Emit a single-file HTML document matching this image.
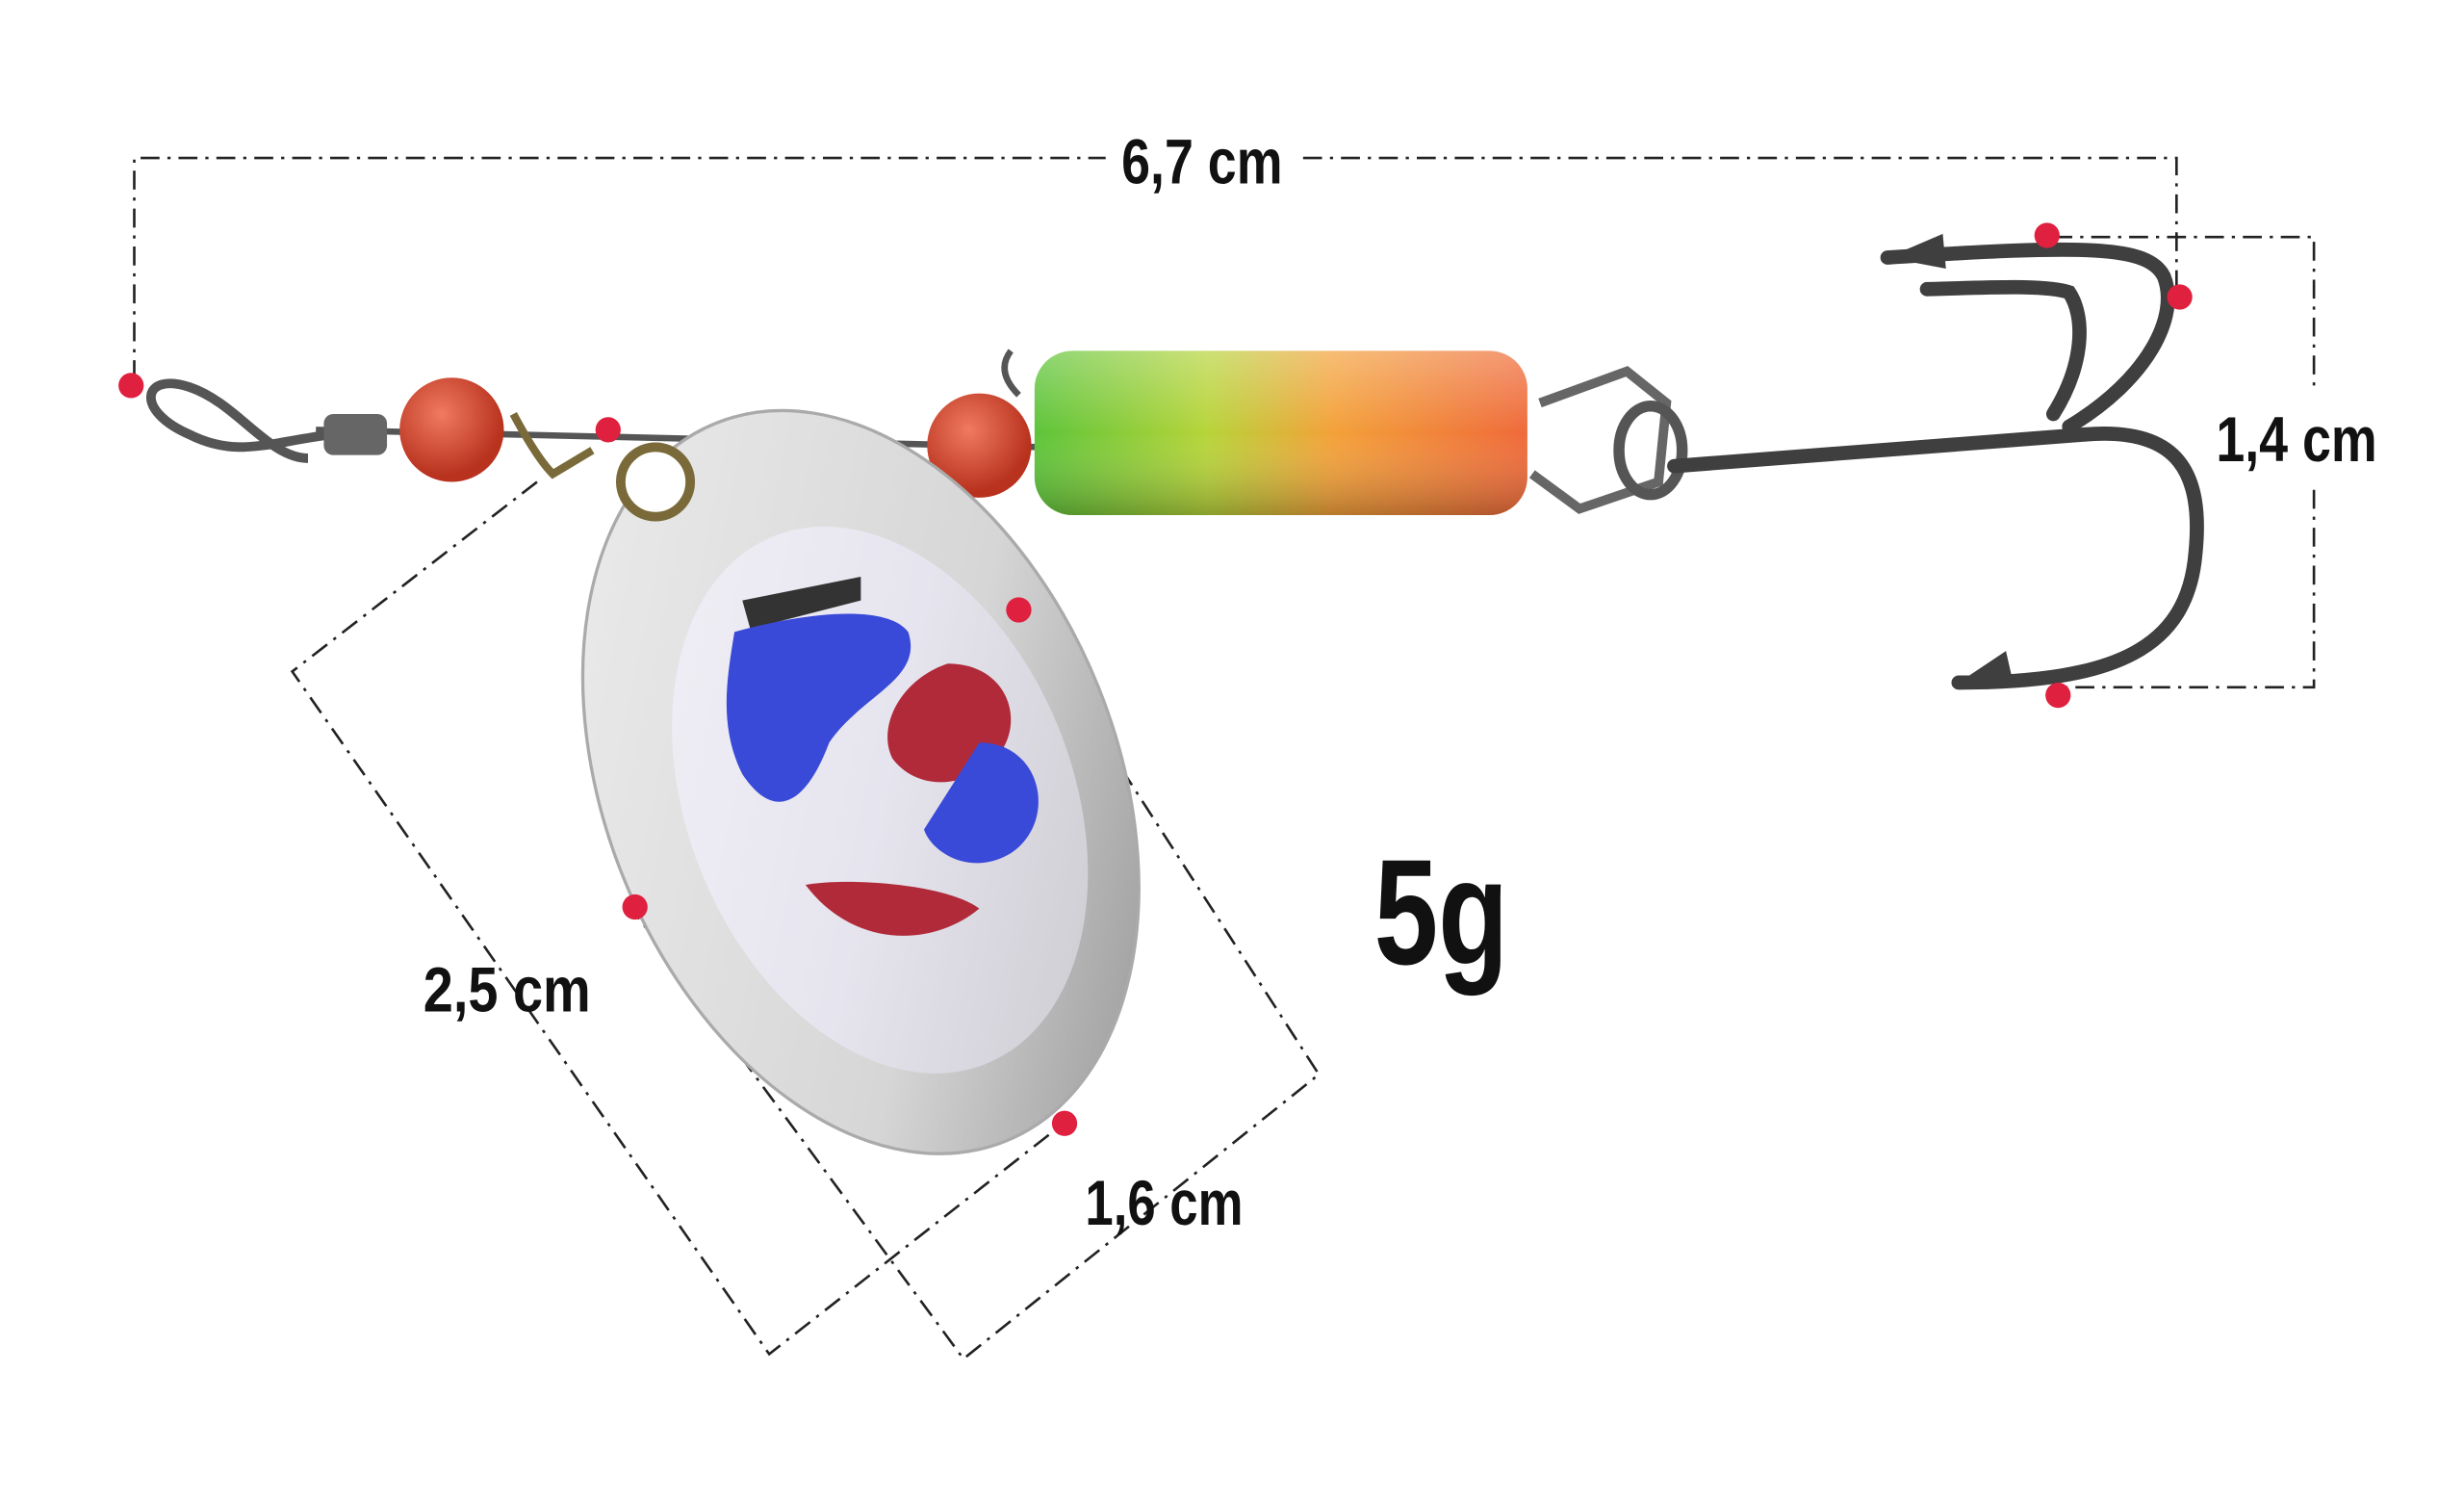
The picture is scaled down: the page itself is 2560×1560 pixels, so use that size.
<!DOCTYPE html>
<html><head><meta charset="utf-8"><style>
html,body{margin:0;padding:0;background:#fff;}
svg{display:block;}
text{font-family:"Liberation Sans Narrow","Liberation Sans",sans-serif;font-weight:bold;fill:#111;}
</style></head><body>
<svg width="2560" height="1560" viewBox="0 0 1560 950.6" preserveAspectRatio="none" xmlns="http://www.w3.org/2000/svg">
<defs>
<linearGradient id="tube" x1="0" x2="1" y1="0" y2="0">
<stop offset="0" stop-color="#5ec43a"/><stop offset="0.35" stop-color="#b7d43a"/><stop offset="0.6" stop-color="#f3a23a"/><stop offset="1" stop-color="#ef6a3a"/></linearGradient>
<linearGradient id="tubeShade" x1="0" x2="0" y1="0" y2="1">
<stop offset="0" stop-color="#fff" stop-opacity="0.3"/><stop offset="0.5" stop-color="#fff" stop-opacity="0"/><stop offset="1" stop-color="#000" stop-opacity="0.25"/></linearGradient>
<radialGradient id="bead" cx="0.4" cy="0.35" r="0.6"><stop offset="0" stop-color="#f07a60"/><stop offset="1" stop-color="#b8321e"/></radialGradient>
<linearGradient id="blade" x1="0" x2="1" y1="0" y2="1"><stop offset="0" stop-color="#eeeeee"/><stop offset="0.6" stop-color="#d6d6d6"/><stop offset="1" stop-color="#8a8a8a"/></linearGradient>
<linearGradient id="holo" x1="0" x2="1" y1="0" y2="1"><stop offset="0" stop-color="#f2f0f6"/><stop offset="0.5" stop-color="#e6e4ee"/><stop offset="1" stop-color="#c8c8cc"/></linearGradient>
</defs>
<rect width="1560" height="951" fill="#fff"/>

<g fill="none" stroke="#222" stroke-width="1.6" stroke-dasharray="12,5,2,5">
<path d="M85,240 V100 H700"/>
<path d="M825,100 H1378 V185"/>
<path d="M1300,150 H1465 V245"/>
<path d="M1465,310 V435 H1300"/>
<path d="M340,305 L185,425 L487,857 L672,712"/>
<path d="M645,386 L835,680 L610,860 L400,575"/>
</g>
<text x="710" y="116" font-size="40" textLength="102" lengthAdjust="spacingAndGlyphs">6,7 cm</text>
<text x="1403" y="292" font-size="40" textLength="102" lengthAdjust="spacingAndGlyphs">1,4 cm</text>
<text x="268" y="640" font-size="40" textLength="106" lengthAdjust="spacingAndGlyphs">2,5 cm</text>
<text x="687" y="775" font-size="40" textLength="100" lengthAdjust="spacingAndGlyphs">1,6 cm</text>
<text x="870" y="610" font-size="95" textLength="85" lengthAdjust="spacingAndGlyphs">5g</text>

<line x1="200" y1="272" x2="660" y2="283" stroke="#555" stroke-width="4"/>
<path d="M210,275 C170,280 150,290 120,275 C85,260 90,235 120,245 C150,255 170,290 195,290" fill="none" stroke="#555" stroke-width="6"/>
<rect x="205" y="262" width="40" height="26" rx="6" fill="#666"/>
<circle cx="286" cy="272" r="33" fill="url(#bead)"/>
<circle cx="620" cy="282" r="33" fill="url(#bead)"/>
<path d="M325,262 Q340,290 350,300 L375,285" fill="none" stroke="#7a6a3a" stroke-width="5"/>
<g transform="rotate(-22 545 495)">
<ellipse cx="545" cy="495" rx="162" ry="245" fill="url(#blade)" stroke="#aaa" stroke-width="2"/>
<ellipse cx="552" cy="510" rx="122" ry="180" fill="url(#holo)"/>
</g>
<circle cx="415" cy="305" r="22" fill="#fff" stroke="#7a6a3a" stroke-width="6"/>
<path d="M470,380 L545,365 L545,380 L475,398 Z" fill="#333"/>
<path d="M465,400 C500,390 560,380 575,400 C585,430 545,440 525,470 C510,510 490,520 470,490 C455,460 460,430 465,400 Z" fill="#3a4ad8"/>
<path d="M600,420 C640,420 650,460 630,480 C610,500 580,500 565,480 C555,460 570,430 600,420 Z" fill="#b02a3a"/>
<path d="M620,470 C660,470 670,520 640,540 C615,555 590,540 585,525 Z" fill="#3a4ad8"/>
<path d="M510,560 C540,555 600,560 620,575 C590,600 540,600 510,560 Z" fill="#b02a3a"/>
<path d="M640,222 Q630,235 645,250" fill="none" stroke="#555" stroke-width="4"/>
<rect x="655" y="222" width="312" height="104" rx="24" fill="url(#tube)"/>
<rect x="655" y="222" width="312" height="104" rx="24" fill="url(#tubeShade)"/>
<path d="M975,255 L1030,235 L1055,255 L1050,305 L1000,322 L970,300" fill="none" stroke="#666" stroke-width="6"/>
<ellipse cx="1045" cy="285" rx="20" ry="28" fill="none" stroke="#555" stroke-width="7"/>
<g fill="none" stroke="#3f3f40" stroke-width="9" stroke-linecap="round">
<path d="M1060,295 L1320,275"/>
<path d="M1320,275 C1380,270 1395,300 1390,350 C1385,410 1340,432 1240,432"/>
<path d="M1310,270 C1360,240 1380,200 1370,175 C1360,155 1320,155 1195,163"/>
<path d="M1300,262 C1320,230 1320,200 1310,185 C1295,180 1260,182 1220,183"/>
</g>
<path d="M1195,163 L1230,148 L1232,170 Z" fill="#3f3f40"/>
<path d="M1240,432 L1270,412 L1275,434 Z" fill="#3f3f40"/>

<g fill="#e0203f">
<circle cx="83" cy="244" r="8"/><circle cx="385" cy="272" r="8"/><circle cx="645" cy="386" r="8"/>
<circle cx="402" cy="574" r="8"/><circle cx="674" cy="711" r="8"/><circle cx="1296" cy="149" r="8"/>
<circle cx="1380" cy="188" r="8"/><circle cx="1303" cy="440" r="8"/>
</g>
</svg>
</body></html>
